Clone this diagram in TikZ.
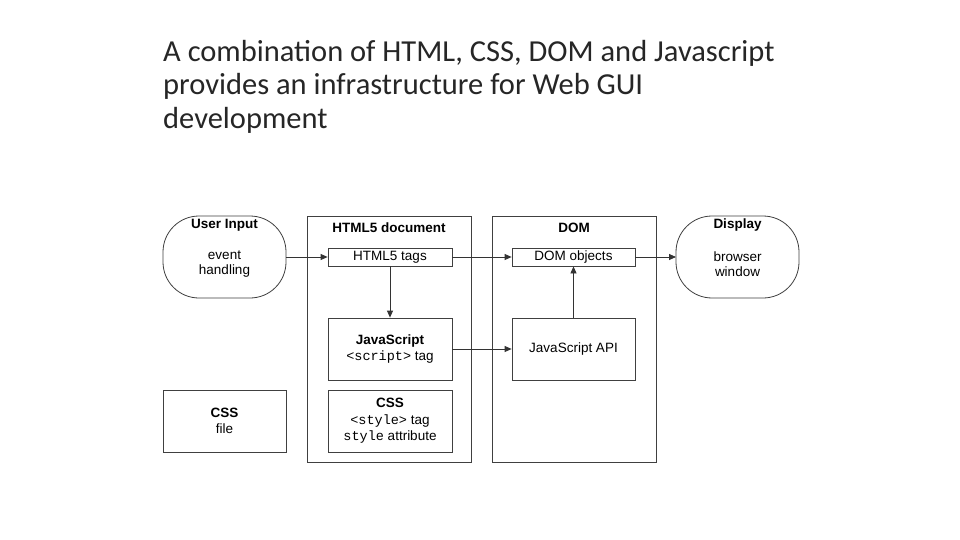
\documentclass[tikz,border=0pt]{standalone}
\usepackage{fontspec}
\setmainfont{Liberation Sans}
\setmonofont{Liberation Mono}
\newfontfamily\titlefont{Carlito}
\usetikzlibrary{arrows.meta}
\begin{document}
\begin{tikzpicture}[x=1pt,y=-1pt,
  box/.style={draw=black!75,line width=0.8pt,fill=white},
  arr/.style={draw=black!80,line width=0.8pt,-{Triangle[length=7pt,width=6pt]}},
  t/.style={font=\fontsize{13.5}{15.5}\selectfont,inner sep=0pt,anchor=center},
  tb/.style={t,font=\fontsize{13.5}{15.5}\selectfont\bfseries}]
\useasboundingbox (0,0) rectangle (960,540);
\fill[white] (0,0) rectangle (960,540);
\node[anchor=north west,align=left,inner sep=0pt,font=\titlefont\fontsize{30.5}{33.5}\selectfont,text=black!85] (title) at (163,40)
 {A combination of HTML, CSS, DOM and Javascript\\provides an infrastructure for Web GUI\\development};
% containers
\draw[box] (307,216) rectangle (471,462);
\node[tb] (htitle) at (389,228) {HTML5 document};
\draw[box] (492,216) rectangle (656,462);
\node[tb] (dtitle) at (574,228) {DOM};
% stadiums
\draw[box,rounded corners=36pt] (163,216) rectangle (286,298);
\node[tb] (uit) at (224.5,225) {User Input};
\node[t,align=center] (ui) at (224.5,264) {event\\handling};
\coordinate (uiR) at (286,257);
\draw[box,rounded corners=36pt] (676,216) rectangle (799,298);
\node[tb] (dpt) at (737.5,225) {Display};
\node[t,align=center] (dp) at (737.5,264) {browser\\window};
\coordinate (dpL) at (676,257);
% inner boxes
\node[box,minimum width=124pt,minimum height=18pt,t] (tags) at (390,257) {HTML5 tags};
\node[box,minimum width=123pt,minimum height=18pt,t] (dobj) at (573.5,257) {DOM objects};
\node[box,minimum width=124pt,minimum height=62pt,t,font=\fontsize{13.5}{16}\selectfont,align=center] (js) at (390,349) {\textbf{JavaScript}\\\texttt{<script>} tag};
\node[box,minimum width=123pt,minimum height=62pt,t] (api) at (573.5,349) {JavaScript API};
\node[box,minimum width=124pt,minimum height=62pt,t,font=\fontsize{13.5}{16.5}\selectfont,align=center] (css) at (390,421) {\textbf{CSS}\\\texttt{<style>} tag\\\texttt{style} attribute};
\node[box,minimum width=123pt,minimum height=62pt,t,font=\fontsize{13.5}{16.5}\selectfont,align=center] (cssf) at (224.5,421) {\textbf{CSS}\\file};
% arrows
\draw[arr] (uiR) -- (tags.west);
\draw[arr] (tags.east) -- (dobj.west);
\draw[arr] (dobj.east) -- (dpL);
\draw[arr] (tags.south) -- (js.north);
\draw[arr] (js.east) -- (api.west);
\draw[arr] (api.north) -- (dobj.south);
\end{tikzpicture}
\end{document}
